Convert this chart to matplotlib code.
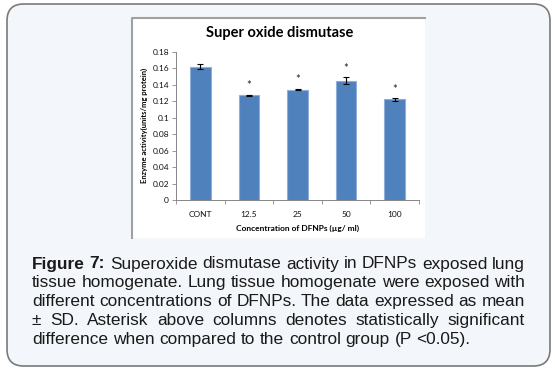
import matplotlib
matplotlib.use("Agg")
import matplotlib.pyplot as plt
from matplotlib.patches import FancyBboxPatch, Rectangle
from matplotlib.lines import Line2D

# data
groups = ["CONT", "12.5", "25", "50", "100"]
activity = [0.162, 0.127, 0.134, 0.145, 0.122]
sd = [0.003, 0.0007, 0.001, 0.004, 0.0015]
signif = [False, True, True, True, True]

caption = [
    "Figure 7: Superoxide dismutase activity in DFNPs exposed lung",
    "tissue homogenate. Lung tissue homogenate were exposed with",
    "different concentrations of DFNPs. The data expressed as mean",
    "± SD. Asterisk above columns denotes statistically significant",
    "difference when compared to the control group (P <0.05).",
]

W, H = 555, 374
fig = plt.figure(figsize=(W / 100, H / 100), dpi=100)
fig.patch.set_facecolor("white")

def fx(px):
    return px / W

def fy(py):
    return 1 - py / H

# outer rounded box
box = FancyBboxPatch((fx(7), fy(366)), fx(543), (366 - 4) / H,
                     boxstyle="round,pad=0,rounding_size=0.03",
                     transform=fig.transFigure, facecolor="#f3f6fa",
                     edgecolor="#7a7a7a", linewidth=1.2, mutation_aspect=W / H,
                     zorder=-3)
fig.patches.append(box)

# white chart image with grey top/left edge
fig.patches.append(Rectangle((fx(132), fy(238)), fx(425 - 132), (238 - 18) / H,
                             transform=fig.transFigure, facecolor="white",
                             edgecolor="none", zorder=-2))
fig.lines.append(Line2D([fx(132), fx(132), fx(425)], [fy(238), fy(18), fy(18)],
                        transform=fig.transFigure, color="#a0a0a0", lw=1.5,
                        zorder=-1))

ax = fig.add_axes([fx(176), fy(200), fx(419 - 176), (200 - 51.7) / H])
ax.set_zorder(2)
ax.set_facecolor("white")
x = range(len(groups))
ax.bar(x, activity, width=0.42, color="#4f81bd", edgecolor="#8eaedb",
       linewidth=0.8, zorder=2)
ax.errorbar(x, activity, yerr=sd, fmt="none", ecolor="black", elinewidth=0.8,
            capsize=2, capthick=0.8, zorder=3)
for i in x:
    if signif[i]:
        ax.text(i, activity[i] + sd[i] + 0.004, "*", ha="center", va="bottom",
                fontsize=8, family="Lato", color="#222")

ax.set_xlim(-0.5, len(groups) - 0.5)
ax.set_ylim(0, 0.18)
ax.set_yticks([0, 0.02, 0.04, 0.06, 0.08, 0.1, 0.12, 0.14, 0.16, 0.18])
ax.set_yticklabels(["0", "0.02", "0.04", "0.06", "0.08", "0.1", "0.12",
                    "0.14", "0.16", "0.18"])
ax.set_xticks(list(x))
ax.set_xticklabels(groups)
ax.set_xticks([i - 0.5 for i in range(len(groups) + 1)], minor=True)
ax.tick_params(axis="x", which="major", length=0, pad=8, labelsize=6)
ax.tick_params(axis="x", which="minor", length=3, color="#868686", width=0.6)
ax.tick_params(axis="y", length=3, color="#868686", width=0.6, labelsize=6,
               pad=2)
for lab in ax.get_xticklabels() + ax.get_yticklabels():
    lab.set_family("Lato")
    lab.set_color("#111")
for s in ["top", "right"]:
    ax.spines[s].set_visible(False)
for s in ["left", "bottom"]:
    ax.spines[s].set_color("#868686")
    ax.spines[s].set_linewidth(0.7)

ax.set_ylabel("Enzyme activity(units/mg protein)", fontsize=5.5, weight="bold",
              family="Lato", labelpad=3)
ax.set_xlabel("Concentration of DFNPs (µg/ ml)", fontsize=6, weight="bold",
              family="Lato", labelpad=5)
fig.text(fx(280), fy(33), "Super oxide dismutase", ha="center", va="center",
         fontsize=10.5, weight="bold", family="Lato", color="black")

# justified caption
fig.canvas.draw()
r = fig.canvas.get_renderer()
left, right = 32, 525
y0, step = 264, 18.8
fs = 12.4
for li, line in enumerate(caption):
    words = line.split(" ")
    texts = []
    for wi, w in enumerate(words):
        bold = li == 0 and wi < 2
        t = fig.text(0, 0, w, fontsize=fs, family="Liberation Sans",
                     weight="bold" if bold else "normal", color="#1a1a1a",
                     va="center", ha="left")
        texts.append(t)
    widths = [t.get_window_extent(r).width for t in texts]
    if li < len(caption) - 1:
        gap = (right - left - sum(widths)) / (len(words) - 1)
    else:
        sp = fig.text(0, 0, "a a", fontsize=fs, family="Liberation Sans")
        sp2 = fig.text(0, 0, "aa", fontsize=fs, family="Liberation Sans")
        gap = sp.get_window_extent(r).width - sp2.get_window_extent(r).width
        sp.remove()
        sp2.remove()
    xp = left
    for t, w in zip(texts, widths):
        t.set_position((fx(xp), fy(y0 + li * step)))
        xp += w + gap

fig.savefig("out.png", dpi=100, facecolor="white")
